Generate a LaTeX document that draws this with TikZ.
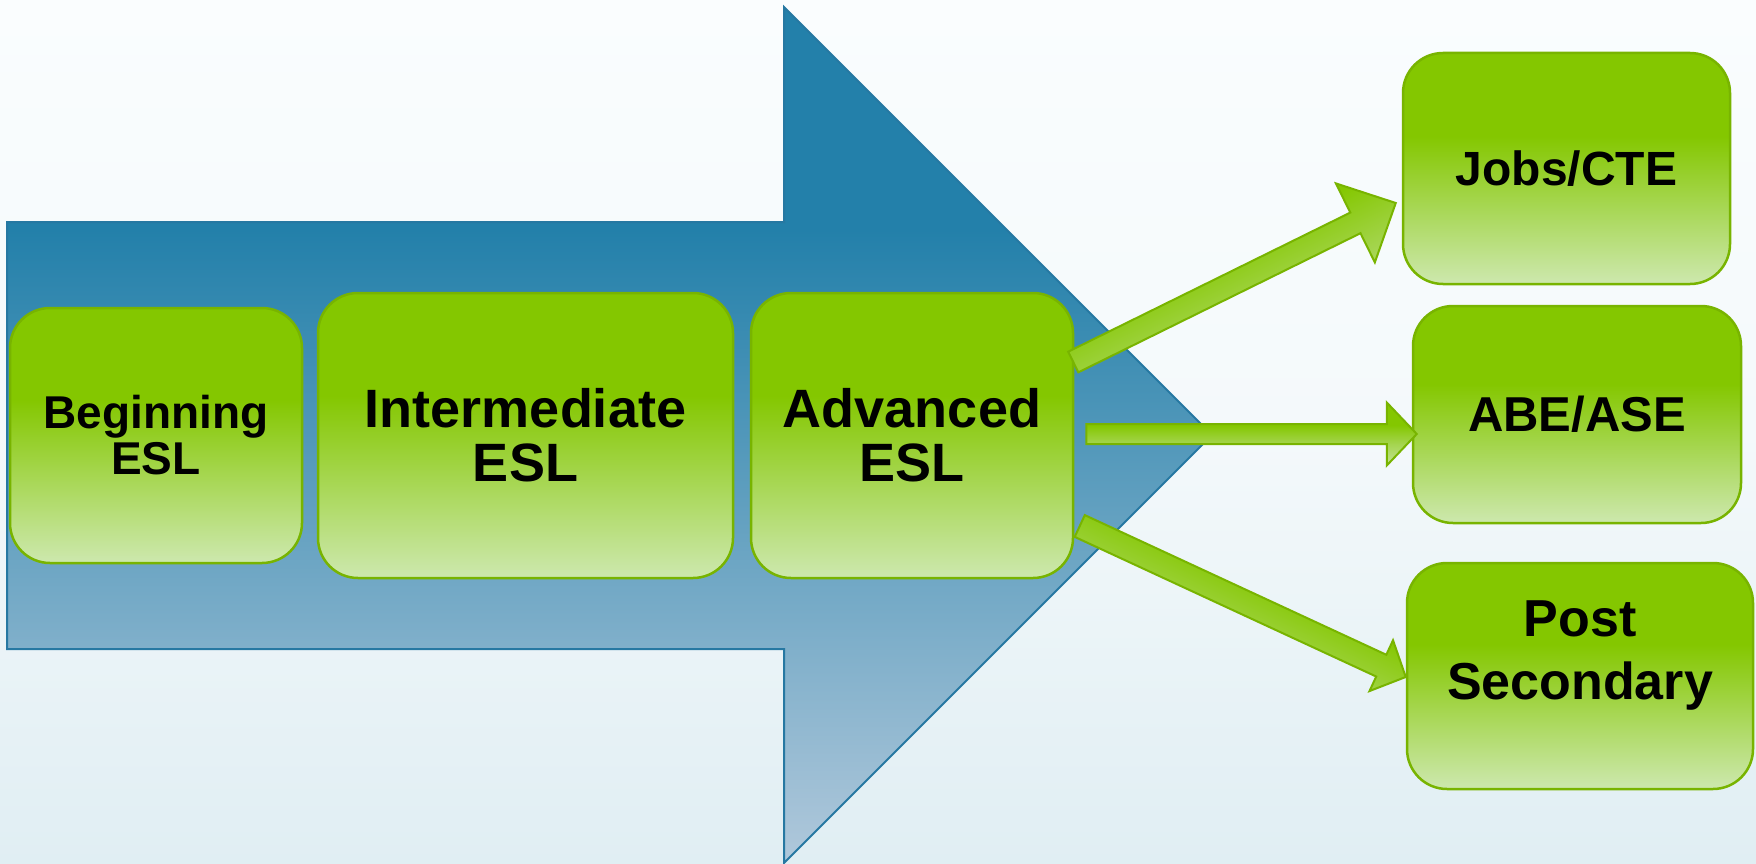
\documentclass[tikz,border=0pt]{standalone}
\usepackage{fontspec}
\setmainfont{Liberation Sans}
\usetikzlibrary{calc}

\definecolor{gdark}{RGB}{132,199,0}
\definecolor{gmid}{RGB}{165,213,80}
\definecolor{glight}{RGB}{205,232,174}
\definecolor{glight2}{RGB}{196,227,150}
\definecolor{gedge}{RGB}{120,180,0}
\definecolor{bdark}{RGB}{35,128,170}
\definecolor{blight}{RGB}{176,200,219}
\definecolor{bedge}{RGB}{38,120,162}
\definecolor{bgtop}{RGB}{250,253,254}
\definecolor{bgmid}{RGB}{244,249,251}
\definecolor{bgbot}{RGB}{224,238,243}

\pgfdeclareverticalshading{boxshade}{100bp}{color(0bp)=(glight); color(25bp)=(glight); color(57bp)=(gdark); color(100bp)=(gdark)}
\pgfdeclareverticalshading{bigshade}{100bp}{color(0bp)=(blight); color(25bp)=(blight); color(62bp)=(bdark); color(100bp)=(bdark)}
\pgfdeclareverticalshading{bgshade}{100bp}{color(0bp)=(bgbot); color(25bp)=(bgbot); color(50bp)=(bgmid); color(75bp)=(bgtop); color(100bp)=(bgtop)}
\pgfdeclareverticalshading{arrowshade}{100bp}{color(0bp)=(glight2); color(25bp)=(glight2); color(42bp)=(gmid); color(57bp)=(gdark); color(100bp)=(gdark)}

\tikzset{
  stage/.style={shade, shading=boxshade, draw=gedge, line width=2.5pt,
    rounded corners=40pt, align=center, inner sep=0pt, text=black},
  greenarrow/.style={shade, shading=arrowshade, draw=gedge, line width=2pt, line join=miter},
  bigarrow/.style={shade, shading=bigshade, draw=bedge, line width=2pt, line join=miter},
}

% block arrow: tail, tip, half shaft width, half head width, head length, shading angle
\newcommand\fatarrow[6]{%
  \coordinate (#1h) at ($(#2)!#5!(#1)$);
  \path[greenarrow, shading angle=#6]
    ($(#1)!#3!90:(#2)$) -- ($(#1h)!#3!90:(#2)$) -- ($(#1h)!#4!90:(#2)$) -- (#2)
    -- ($(#1h)!#4!-90:(#2)$) -- ($(#1h)!#3!-90:(#2)$) -- ($(#1)!#3!-90:(#2)$) -- cycle;
}

\begin{document}
\begin{tikzpicture}[x=1pt,y=-1pt]
  \useasboundingbox (0,0) rectangle (1756,864);
  \path[shade, shading=bgshade] (0,0) rectangle (1756,864);

  % the large progression arrow
  \path[bigarrow] (7,222) -- (784,222) -- (784,7) -- (1212,435) -- (784,863)
    -- (784,649) -- (7,649) -- cycle;

  % ESL levels
  \node[stage, minimum width=292pt, minimum height=255pt,
        font=\bfseries\fontsize{46}{46}\selectfont] (beg) at (156,435.5) {Beginning\\ESL};
  \node[stage, minimum width=415pt, minimum height=285pt,
        font=\bfseries\fontsize{54}{54}\selectfont] (inter) at (525.5,435.5) {Intermediate\\ESL};
  \node[stage, minimum width=322pt, minimum height=285pt,
        font=\bfseries\fontsize{54}{54}\selectfont] (adv) at (912,435.5) {Advanced\\ESL};

  % destinations
  \node[stage, minimum width=327pt, minimum height=231pt,
        font=\bfseries\fontsize{48}{48}\selectfont] (jobs) at (1566.5,168.5) {Jobs/CTE};
  \node[stage, minimum width=328pt, minimum height=217pt,
        font=\bfseries\fontsize{49}{49}\selectfont] (abe) at (1577,414.5) {ABE/ASE};
  \node[stage, minimum width=346pt, minimum height=226pt, text depth=51pt,
        font=\bfseries\fontsize{52}{63}\selectfont] (post) at (1580,676) {Post\\Secondary};

  % connectors from Advanced ESL
  \coordinate (a1s) at ($(adv.east)+(-1,-73.5)$);
  \coordinate (a1e) at ($(jobs.west)+(-6,34.5)$);
  \coordinate (a2s) at ($(adv.east)+(12,-1.5)$);
  \coordinate (a2e) at ($(abe.west)+(5,19.5)$);
  \coordinate (a3s) at ($(adv.east)+(5.5,90.5)$);
  \coordinate (a3e) at ($(post.west)+(0,1)$);

  \fatarrow{a1s}{a1e}{11.5pt}{44pt}{45pt}{26}
  \fatarrow{a2s}{a2e}{10pt}{31.5pt}{30pt}{0}
  \fatarrow{a3s}{a3e}{12pt}{28pt}{27pt}{-25}
\end{tikzpicture}
\end{document}
